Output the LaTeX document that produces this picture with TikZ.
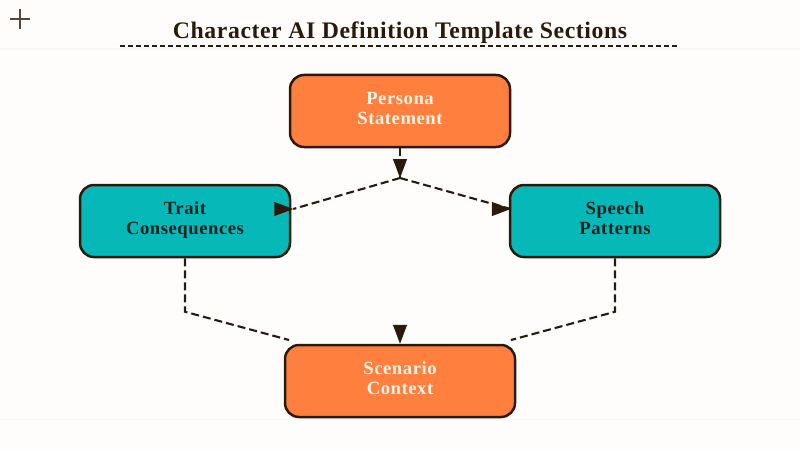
\documentclass[tikz,border=0pt]{standalone}
\usepackage{fontspec}
\setmainfont{Liberation Serif}
\usetikzlibrary{arrows.meta}

\begin{document}
\begin{tikzpicture}
  \tikzset{>={Triangle[length=0.38cm,width=0.28cm]}}
  \tikzset{section/.style={draw=edge, line width=0.05cm, rounded corners=0.28cm, align=center,
      minimum height=1.44cm, text height=0.64cm, text depth=0.1cm,
      font=\bfseries\fontsize{10.6}{11.4}\selectfont\addfontfeature{LetterSpace=3}}}
  \tikzset{warm/.style={section, fill=warmfill, text=warmtext, minimum width=#1}}
  \tikzset{cool/.style={section, fill=coolfill, text=cooltext, minimum width=4.2cm}}
  \tikzset{link/.style={draw=edge, line width=0.042cm, dash pattern=on 0.16cm off 0.08cm}}
  \definecolor{edge}{HTML}{2B1A0A}
  \definecolor{warmfill}{HTML}{FF7F3F}
  \definecolor{warmtext}{HTML}{FFF5E6}
  \definecolor{coolfill}{HTML}{06B8B8}
  \definecolor{cooltext}{HTML}{10201A}
  \definecolor{paper}{HTML}{FFFDFB}
  \definecolor{band}{HTML}{FAF7F4}
  %
  \fill [paper] (0,0) rectangle (16,9);
  \useasboundingbox (0,0) rectangle (16,9);
  \draw [band, line width=0.03cm] (0,8.02) -- (16,8.02);
  \draw [band, line width=0.03cm] (0,0.61) -- (16,0.61);
  %
  \draw [edge!80, line width=0.025cm] (0.2,8.62) -- (0.6,8.62);
  \draw [edge!80, line width=0.025cm] (0.4,8.42) -- (0.4,8.82);
  %
  \node [text=edge, font=\bfseries\fontsize{13.5}{16}\selectfont\addfontfeature{LetterSpace=2.5}] (title) at (8,8.34) {Character AI Definition Template Sections};
  \coordinate (ruleL) at (2.4,8.08);
  \coordinate (ruleR) at (13.54,8.08);
  \draw [link, line width=0.04cm, dash pattern=on 0.1cm off 0.06cm] (ruleL) -- (ruleR);
  %
  \node [warm=4.4cm] (persona) at (8,6.78) {Persona\\Statement};
  \node [cool] (trait) at (3.7,4.58) {Trait\\Consequences};
  \node [cool] (speech) at (12.3,4.58) {Speech\\Patterns};
  \node [warm=4.6cm] (scenario) at (8,1.38) {Scenario\\Context};
  %
  \coordinate (split) at (8,5.44);
  \coordinate (traitIn) at ([xshift=0.04cm, yshift=0.24cm]trait.east);
  \coordinate (speechIn) at ([xshift=0.04cm, yshift=0.24cm]speech.west);
  \coordinate (traitBend) at ([yshift=-1.07cm]trait.south);
  \coordinate (speechBend) at ([yshift=-1.07cm]speech.south);
  \coordinate (traitEnd) at (5.78,2.2);
  \coordinate (speechEnd) at (10.22,2.2);
  \coordinate (scenarioTail) at (8,2.5);
  %
  \draw [link] (persona.south) -- (split);
  \draw [link] (split) -- (traitIn);
  \draw [link] (split) -- (speechIn);
  \draw [link] (trait.south) -- (traitBend) -- (traitEnd);
  \draw [link] (speech.south) -- (speechBend) -- (speechEnd);
  %
  \foreach \tgt in {traitIn, speechIn} {
    \draw [->, edge, line width=0.02cm] ([xshift=-0.36cm]\tgt) -- (\tgt);
  }
  \draw [->, edge, line width=0.02cm] ([yshift=0.36cm]split) -- (split);
  \draw [->, edge, line width=0.02cm] (scenarioTail) -- (scenario.north);
\end{tikzpicture}
\end{document}
